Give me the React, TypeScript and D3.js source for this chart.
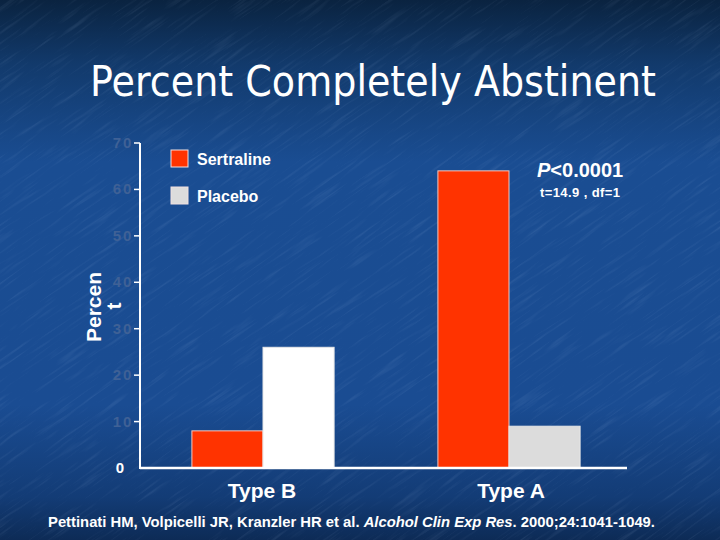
import React from 'react';
import * as d3 from 'd3';

const categories = ['Type B', 'Type A'];
const series = ['Sertraline', 'Placebo'];
const sertraline = [8, 64];
const placebo = [26, 9];
const yTicks = [0, 10, 20, 30, 40, 50, 60, 70];

const W = 720;
const H = 540;
const margin = { top: 143, right: 93, bottom: 72, left: 140 };

const App = () => {
  const innerW = W - margin.left - margin.right;
  const innerH = H - margin.top - margin.bottom;

  const y = d3.scaleLinear().domain([0, 70]).range([margin.top + innerH, margin.top]);
  const x0 = d3.scaleBand().domain(categories).range([margin.left, margin.left + innerW + 5]);
  const x1 = d3.scaleBand().domain(series).range([0, x0.bandwidth()]).paddingOuter(0.73);

  const rows = categories.map((c, i) => ({ cat: c, vals: [sertraline[i], placebo[i]] }));
  // placebo bar is white for Type B, light grey for Type A (as in the slide)
  const barFill = (s: number, i: number) => (s === 0 ? '#ff3300' : i === 0 ? '#ffffff' : '#dcdcdc');

  const font = 'Arial, "Liberation Sans", sans-serif';

  return (
    <svg width={W} height={H} style={{ position: 'absolute', left: 0, top: 0 }}>
      <defs>
        <linearGradient id="bg" x1="0" y1="0" x2="0" y2="1">
          <stop offset="0" stopColor="#0a2340" />
          <stop offset="0.12" stopColor="#123a6c" />
          <stop offset="0.3" stopColor="#1a4d92" />
          <stop offset="0.75" stopColor="#1a4c92" />
          <stop offset="0.92" stopColor="#133c76" />
          <stop offset="1" stopColor="#0d2b56" />
        </linearGradient>
        <filter id="streaks" x="0" y="0" width="1" height="1">
          <feTurbulence type="fractalNoise" baseFrequency="0.02 0.35" numOctaves="3" seed="4" />
          <feColorMatrix type="matrix" values="0 0 0 0 0.6  0 0 0 0 0.75  0 0 0 0 1  0 0 0 1.4 -0.75" />
        </filter>
      </defs>
      <rect width={W} height={H} fill="url(#bg)" />
      <g transform="rotate(-35 360 270)" opacity={0.18}>
        <rect x={-300} y={-300} width={1400} height={1200} filter="url(#streaks)" />
      </g>

      {/* title */}
      <text x={90} y={96} fill="#ffffff" fontSize={42} textLength={566} lengthAdjust="spacingAndGlyphs"
        fontFamily='Tahoma, "DejaVu Sans", sans-serif'>Percent Completely Abstinent</text>

      {/* y axis */}
      <line x1={margin.left} x2={margin.left} y1={y(70)} y2={y(0) + 1} stroke="#fff" strokeWidth={2} />
      {yTicks.map(t => (
        <g key={t}>
          {t > 0 && <line x1={margin.left - 6} x2={margin.left} y1={y(t)} y2={y(t)} stroke="#fff" strokeWidth={1.5} />}
          <text x={t === 0 ? 120 : 123} y={y(t) + 5} textAnchor="middle" fontSize={15} fontWeight="bold"
            fontFamily={font} fill={t === 0 ? '#ffffff' : '#3f6196'} letterSpacing={t === 0 ? 0 : 2}>{t}</text>
        </g>
      ))}

      {/* bars */}
      {rows.map((r, i) => (
        <g key={r.cat} transform={`translate(${x0(r.cat)},0)`}>
          {r.vals.map((v, s) => (
            <rect key={s} x={x1(series[s])} y={y(v)} width={x1.bandwidth()} height={y(0) - y(v)}
              fill={barFill(s, i)} stroke={s === 0 ? '#f0c8c0' : '#e8e8e8'} strokeWidth={1} />
          ))}
        </g>
      ))}

      {/* x axis */}
      <line x1={margin.left} x2={margin.left + innerW} y1={y(0)} y2={y(0)} stroke="#fff" strokeWidth={2.5} />
      {categories.map(c => (
        <text key={c} x={(x0(c) ?? 0) + x0.bandwidth() / 2 + (c === 'Type A' ? 2 : -1)} y={498} textAnchor="middle"
          fontSize={21} fontWeight="bold" fontFamily={font} fill="#fff">{c}</text>
      ))}

      {/* y label */}
      <text transform="translate(101,307) rotate(-90)" textAnchor="middle" fontSize={21} fontWeight="bold"
        fontFamily={font} fill="#fff">Percen</text>
      <text transform="translate(121,306) rotate(-90)" textAnchor="middle" fontSize={21} fontWeight="bold"
        fontFamily={font} fill="#fff">t</text>

      {/* legend */}
      {series.map((s, i) => (
        <g key={s} transform={`translate(171,${150 + i * 37})`}>
          <rect width={17} height={17} fill={i === 0 ? '#ff3300' : '#dcdcdc'} stroke="#f0e0e0" strokeWidth={1} />
          <text x={26} y={15} fontSize={16} fontWeight="bold" fontFamily={font} fill="#fff">{s}</text>
        </g>
      ))}

      {/* stats */}
      <text x={537} y={177} fontSize={20} fontWeight="bold" fontFamily={font} fill="#fff">
        <tspan fontStyle="italic">P</tspan>&lt;0.0001
      </text>
      <text x={540} y={197} fontSize={13} fontWeight="bold" fontFamily={font} fill="#fff" textLength={80}
        lengthAdjust="spacing">t=14.9 , df=1</text>

      {/* citation */}
      <text x={48} y={527} fontSize={14} fontWeight="bold" fontFamily={font} fill="#fff" textLength={607}
        lengthAdjust="spacingAndGlyphs">
        Pettinati HM, Volpicelli JR, Kranzler HR et al. <tspan fontStyle="italic">Alcohol Clin Exp Res</tspan>. 2000;24:1041-1049.
      </text>
    </svg>
  );
};

export default App;
